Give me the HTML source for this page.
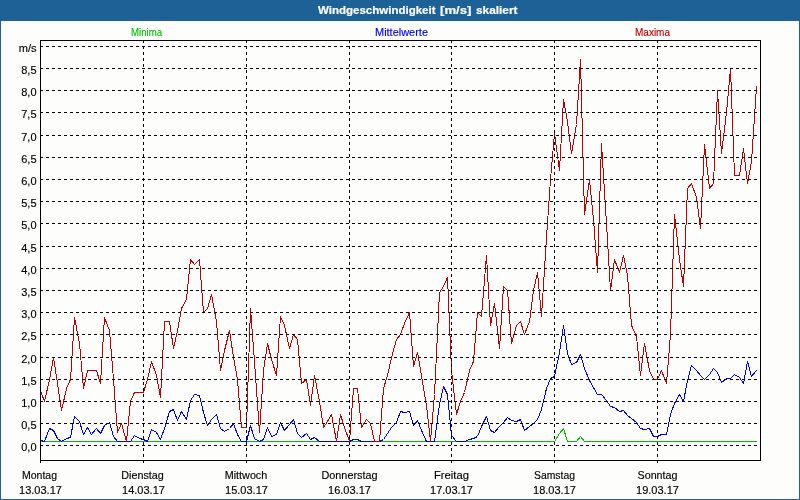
<!DOCTYPE html>
<html><head><meta charset="utf-8"><title>Windgeschwindigkeit [m/s] skaliert</title>
<style>
html,body{margin:0;padding:0;background:#fdfefc;overflow:hidden}
svg{display:block;will-change:transform}
text{font-family:"Liberation Sans",sans-serif;font-size:11px;stroke:#000;stroke-width:0.15px}
.t{font-weight:bold;fill:#fff;font-size:11px;stroke:#fff;stroke-width:0.2px}
.lg{fill:#00c000;stroke:#00c000}.lb{fill:#0000f0;stroke:#0000f0}.lr{fill:#c00000;stroke:#c00000}
.g{stroke:#000;stroke-width:1;stroke-dasharray:3 3;fill:none}
</style></head><body>
<svg width="800" height="500" viewBox="0 0 800 500" shape-rendering="crispEdges">
<rect x="0" y="0" width="800" height="500" fill="#fdfefc"/>
<rect x="0" y="0" width="800" height="21" fill="#1d6197"/>
<rect x="0" y="0" width="1" height="500" fill="#1d6197"/>
<rect x="799" y="0" width="1" height="500" fill="#1d6197"/>
<rect x="0" y="499" width="800" height="1" fill="#1d6197"/>
<text class="t" y="14"><tspan x="318" textLength="117.5" lengthAdjust="spacingAndGlyphs">Windgeschwindigkeit</tspan> <tspan x="440" textLength="31.5" lengthAdjust="spacingAndGlyphs">[m/s]</tspan> <tspan x="476" textLength="41.5" lengthAdjust="spacingAndGlyphs">skaliert</tspan></text>
<text x="146.5" y="36" text-anchor="middle" class="lg" textLength="31" lengthAdjust="spacingAndGlyphs">Minima</text>
<text x="401.5" y="36" text-anchor="middle" class="lb" textLength="53" lengthAdjust="spacingAndGlyphs">Mittelwerte</text>
<text x="652.5" y="36" text-anchor="middle" class="lr" textLength="35" lengthAdjust="spacingAndGlyphs">Maxima</text>

<polyline fill="none" stroke-linejoin="round" stroke="#00c000" stroke-width="1" points="40.5,441.5 44.5,441.5 49.5,441.5 53.5,441.5 57.5,441.5 61.5,441.5 66.5,441.5 70.5,441.5 74.5,441.5 79.5,441.5 83.5,441.5 87.5,441.5 91.5,441.5 96.5,441.5 100.5,441.5 104.5,441.5 109.5,441.5 113.5,441.5 117.5,441.5 121.5,441.5 126.5,441.5 130.5,441.5 134.5,441.5 139.5,441.5 143.5,441.5 147.5,441.5 151.5,441.5 156.5,441.5 160.5,441.5 164.5,441.5 169.5,441.5 173.5,441.5 177.5,441.5 181.5,441.5 186.5,441.5 190.5,441.5 194.5,441.5 199.5,441.5 203.5,441.5 207.5,441.5 211.5,441.5 216.5,441.5 220.5,441.5 224.5,441.5 229.5,441.5 233.5,441.5 237.5,441.5 241.5,441.5 246.5,441.5 250.5,441.5 254.5,441.5 259.5,441.5 263.5,441.5 267.5,441.5 271.5,441.5 276.5,441.5 280.5,441.5 284.5,441.5 289.5,441.5 293.5,441.5 297.5,441.5 301.5,441.5 306.5,441.5 310.5,441.5 314.5,441.5 319.5,441.5 323.5,441.5 327.5,441.5 331.5,441.5 336.5,441.5 340.5,441.5 344.5,441.5 349.5,441.5 353.5,441.5 357.5,441.5 361.5,441.5 366.5,441.5 370.5,441.5 374.5,441.5 379.5,441.5 383.5,441.5 387.5,441.5 391.5,441.5 396.5,441.5 400.5,441.5 404.5,441.5 409.5,441.5 413.5,441.5 417.5,441.5 421.5,441.5 426.5,441.5 430.5,441.5 434.5,441.5 439.5,441.5 443.5,441.5 447.5,441.5 451.5,441.5 456.5,441.5 460.5,441.5 464.5,441.5 469.5,441.5 473.5,441.5 477.5,441.5 481.5,441.5 486.5,441.5 490.5,441.5 494.5,441.5 499.5,441.5 503.5,441.5 507.5,441.5 511.5,441.5 516.5,441.5 520.5,441.5 524.5,441.5 529.5,441.5 533.5,441.5 537.5,441.5 541.5,441.5 546.5,441.5 550.5,441.5 554.5,441.5 559.5,433.5 563.5,428.5 567.5,441.5 571.5,441.5 576.5,441.5 580.5,436.5 584.5,441.5 589.5,441.5 593.5,441.5 597.5,441.5 601.5,441.5 606.5,441.5 610.5,441.5 614.5,441.5 619.5,441.5 623.5,441.5 627.5,441.5 631.5,441.5 636.5,441.5 640.5,441.5 644.5,441.5 649.5,441.5 653.5,441.5 657.5,441.5 661.5,441.5 666.5,441.5 670.5,441.5 674.5,441.5 679.5,441.5 683.5,441.5 687.5,441.5 691.5,441.5 696.5,441.5 700.5,441.5 704.5,441.5 709.5,441.5 713.5,441.5 717.5,441.5 721.5,441.5 726.5,441.5 730.5,441.5 734.5,441.5 739.5,441.5 743.5,441.5 747.5,441.5 751.5,441.5 756.5,441.5"/>
<polyline fill="none" stroke-linejoin="round" stroke="#0000f0" stroke-width="1" points="40.5,440.5 44.5,441.5 49.5,428.5 53.5,430.5 57.5,438.5 61.5,441.5 66.5,438.5 70.5,437.5 74.5,416.5 79.5,421.5 83.5,434.5 87.5,427.5 91.5,434.5 96.5,428.5 100.5,433.5 104.5,425.5 109.5,422.5 113.5,436.5 117.5,441.5 121.5,441.5 126.5,441.5 130.5,441.5 134.5,435.5 139.5,438.5 143.5,439.5 147.5,441.5 151.5,429.5 156.5,432.5 160.5,439.5 164.5,428.5 169.5,411.5 173.5,409.5 177.5,420.5 181.5,411.5 186.5,419.5 190.5,400.5 194.5,394.5 199.5,395.5 203.5,412.5 207.5,425.5 211.5,419.5 216.5,414.5 220.5,428.5 224.5,431.5 229.5,428.5 233.5,423.5 237.5,434.5 241.5,441.5 246.5,441.5 250.5,425.5 254.5,438.5 259.5,441.5 263.5,439.5 267.5,427.5 271.5,436.5 276.5,434.5 280.5,422.5 284.5,430.5 289.5,424.5 293.5,419.5 297.5,433.5 301.5,437.5 306.5,433.5 310.5,439.5 314.5,437.5 319.5,441.5 323.5,441.5 327.5,441.5 331.5,441.5 336.5,441.5 340.5,441.5 344.5,441.5 349.5,441.5 353.5,439.5 357.5,439.5 361.5,441.5 366.5,441.5 370.5,441.5 374.5,441.5 379.5,441.5 383.5,439.5 387.5,433.5 391.5,427.5 396.5,422.5 400.5,411.5 404.5,412.5 409.5,411.5 413.5,425.5 417.5,420.5 421.5,430.5 426.5,441.5 430.5,441.5 434.5,441.5 439.5,404.5 443.5,386.5 447.5,394.5 451.5,435.5 456.5,441.5 460.5,441.5 464.5,441.5 469.5,439.5 473.5,438.5 477.5,436.5 481.5,426.5 486.5,416.5 490.5,430.5 494.5,432.5 499.5,426.5 503.5,422.5 507.5,417.5 511.5,420.5 516.5,421.5 520.5,419.5 524.5,430.5 529.5,426.5 533.5,423.5 537.5,419.5 541.5,409.5 546.5,388.5 550.5,378.5 554.5,376.5 559.5,352.5 563.5,325.5 567.5,353.5 571.5,364.5 576.5,362.5 580.5,354.5 584.5,368.5 589.5,380.5 593.5,387.5 597.5,394.5 601.5,394.5 606.5,400.5 610.5,406.5 614.5,407.5 619.5,411.5 623.5,410.5 627.5,415.5 631.5,418.5 636.5,422.5 640.5,428.5 644.5,429.5 649.5,428.5 653.5,436.5 657.5,436.5 661.5,434.5 666.5,434.5 670.5,414.5 674.5,403.5 679.5,394.5 683.5,401.5 687.5,380.5 691.5,365.5 696.5,370.5 700.5,375.5 704.5,379.5 709.5,374.5 713.5,368.5 717.5,372.5 721.5,382.5 726.5,378.5 730.5,378.5 734.5,374.5 739.5,377.5 743.5,383.5 747.5,361.5 751.5,376.5 756.5,370.5"/>
<polyline fill="none" stroke-linejoin="round" stroke="#c00000" stroke-width="1" points="40.5,390.5 44.5,401.5 49.5,379.5 53.5,357.5 57.5,383.5 61.5,410.5 66.5,388.5 70.5,379.5 74.5,317.5 79.5,343.5 83.5,388.5 87.5,370.5 91.5,370.5 96.5,370.5 100.5,383.5 104.5,317.5 109.5,330.5 113.5,379.5 117.5,432.5 121.5,423.5 126.5,441.5 130.5,401.5 134.5,392.5 139.5,392.5 143.5,392.5 147.5,379.5 151.5,361.5 156.5,375.5 160.5,397.5 164.5,321.5 169.5,321.5 173.5,348.5 177.5,330.5 181.5,308.5 186.5,299.5 190.5,259.5 194.5,264.5 199.5,259.5 203.5,312.5 207.5,308.5 211.5,294.5 216.5,321.5 220.5,370.5 224.5,350.5 229.5,330.5 233.5,357.5 237.5,379.5 241.5,427.5 246.5,427.5 250.5,308.5 254.5,361.5 259.5,432.5 263.5,370.5 267.5,343.5 271.5,359.5 276.5,375.5 280.5,316.5 284.5,325.5 289.5,348.5 293.5,334.5 297.5,339.5 301.5,383.5 306.5,379.5 310.5,405.5 314.5,375.5 319.5,401.5 323.5,427.5 327.5,421.5 331.5,414.5 336.5,441.5 340.5,414.5 344.5,427.5 349.5,441.5 353.5,388.5 357.5,388.5 361.5,427.5 366.5,419.5 370.5,423.5 374.5,441.5 379.5,441.5 383.5,388.5 387.5,375.5 391.5,357.5 396.5,339.5 400.5,334.5 404.5,323.5 409.5,312.5 413.5,366.5 417.5,352.5 421.5,375.5 426.5,405.5 430.5,441.5 434.5,394.5 439.5,292.5 443.5,286.5 447.5,277.5 451.5,370.5 456.5,414.5 460.5,401.5 464.5,392.5 469.5,370.5 473.5,361.5 477.5,312.5 481.5,316.5 486.5,255.5 490.5,325.5 494.5,303.5 499.5,348.5 503.5,286.5 507.5,290.5 511.5,343.5 516.5,325.5 520.5,321.5 524.5,334.5 529.5,321.5 533.5,290.5 537.5,272.5 541.5,316.5 546.5,237.5 550.5,179.5 554.5,133.5 559.5,170.5 563.5,99.5 567.5,121.5 571.5,153.5 576.5,124.5 580.5,59.5 584.5,214.5 589.5,179.5 593.5,219.5 597.5,272.5 601.5,143.5 606.5,223.5 610.5,290.5 614.5,259.5 619.5,272.5 623.5,255.5 627.5,275.5 631.5,325.5 636.5,336.5 640.5,375.5 644.5,343.5 649.5,370.5 653.5,379.5 657.5,379.5 661.5,370.5 666.5,383.5 670.5,334.5 674.5,214.5 679.5,259.5 683.5,286.5 687.5,188.5 691.5,183.5 696.5,197.5 700.5,228.5 704.5,144.5 709.5,188.5 713.5,183.5 717.5,90.5 721.5,153.5 726.5,112.5 730.5,68.5 734.5,175.5 739.5,175.5 743.5,148.5 747.5,183.5 751.5,161.5 756.5,86.5"/>
<line class="g" x1="40" y1="46.5" x2="760" y2="46.5"/>
<text x="36.5" y="52" text-anchor="end">m/s</text>
<line class="g" x1="40" y1="68.5" x2="760" y2="68.5"/>
<text x="36.5" y="74" text-anchor="end">8,5</text>
<line class="g" x1="40" y1="90.5" x2="760" y2="90.5"/>
<text x="36.5" y="96" text-anchor="end">8,0</text>
<line class="g" x1="40" y1="112.5" x2="760" y2="112.5"/>
<text x="36.5" y="118" text-anchor="end">7,5</text>
<line class="g" x1="40" y1="135.5" x2="760" y2="135.5"/>
<text x="36.5" y="141" text-anchor="end">7,0</text>
<line class="g" x1="40" y1="157.5" x2="760" y2="157.5"/>
<text x="36.5" y="163" text-anchor="end">6,5</text>
<line class="g" x1="40" y1="179.5" x2="760" y2="179.5"/>
<text x="36.5" y="185" text-anchor="end">6,0</text>
<line class="g" x1="40" y1="201.5" x2="760" y2="201.5"/>
<text x="36.5" y="207" text-anchor="end">5,5</text>
<line class="g" x1="40" y1="223.5" x2="760" y2="223.5"/>
<text x="36.5" y="229" text-anchor="end">5,0</text>
<line class="g" x1="40" y1="246.5" x2="760" y2="246.5"/>
<text x="36.5" y="252" text-anchor="end">4,5</text>
<line class="g" x1="40" y1="268.5" x2="760" y2="268.5"/>
<text x="36.5" y="274" text-anchor="end">4,0</text>
<line class="g" x1="40" y1="290.5" x2="760" y2="290.5"/>
<text x="36.5" y="296" text-anchor="end">3,5</text>
<line class="g" x1="40" y1="312.5" x2="760" y2="312.5"/>
<text x="36.5" y="318" text-anchor="end">3,0</text>
<line class="g" x1="40" y1="334.5" x2="760" y2="334.5"/>
<text x="36.5" y="340" text-anchor="end">2,5</text>
<line class="g" x1="40" y1="357.5" x2="760" y2="357.5"/>
<text x="36.5" y="363" text-anchor="end">2,0</text>
<line class="g" x1="40" y1="379.5" x2="760" y2="379.5"/>
<text x="36.5" y="385" text-anchor="end">1,5</text>
<line class="g" x1="40" y1="401.5" x2="760" y2="401.5"/>
<text x="36.5" y="407" text-anchor="end">1,0</text>
<line class="g" x1="40" y1="423.5" x2="760" y2="423.5"/>
<text x="36.5" y="429" text-anchor="end">0,5</text>
<line class="g" x1="40" y1="445.5" x2="760" y2="445.5"/>
<text x="36.5" y="451" text-anchor="end">0,0</text>
<line x1="40.5" y1="460" x2="40.5" y2="463" stroke="#000"/>
<text x="39.5" y="479" text-anchor="middle" textLength="35" lengthAdjust="spacingAndGlyphs">Montag</text>
<text x="40.5" y="494" text-anchor="middle">13.03.17</text>
<line class="g" x1="143.5" y1="40" x2="143.5" y2="460"/>
<line x1="143.5" y1="460" x2="143.5" y2="463" stroke="#000"/>
<text x="142.5" y="479" text-anchor="middle" textLength="42.5" lengthAdjust="spacingAndGlyphs">Dienstag</text>
<text x="143.5" y="494" text-anchor="middle">14.03.17</text>
<line class="g" x1="246.5" y1="40" x2="246.5" y2="460"/>
<line x1="246.5" y1="460" x2="246.5" y2="463" stroke="#000"/>
<text x="246.0" y="479" text-anchor="middle" textLength="42.5" lengthAdjust="spacingAndGlyphs">Mittwoch</text>
<text x="246.5" y="494" text-anchor="middle">15.03.17</text>
<line class="g" x1="349.5" y1="40" x2="349.5" y2="460"/>
<line x1="349.5" y1="460" x2="349.5" y2="463" stroke="#000"/>
<text x="349.5" y="479" text-anchor="middle" textLength="56" lengthAdjust="spacingAndGlyphs">Donnerstag</text>
<text x="349.5" y="494" text-anchor="middle">16.03.17</text>
<line class="g" x1="451.5" y1="40" x2="451.5" y2="460"/>
<line x1="451.5" y1="460" x2="451.5" y2="463" stroke="#000"/>
<text x="451.5" y="479" text-anchor="middle" textLength="35" lengthAdjust="spacingAndGlyphs">Freitag</text>
<text x="451.5" y="494" text-anchor="middle">17.03.17</text>
<line class="g" x1="554.5" y1="40" x2="554.5" y2="460"/>
<line x1="554.5" y1="460" x2="554.5" y2="463" stroke="#000"/>
<text x="554.5" y="479" text-anchor="middle" textLength="41" lengthAdjust="spacingAndGlyphs">Samstag</text>
<text x="554.5" y="494" text-anchor="middle">18.03.17</text>
<line class="g" x1="657.5" y1="40" x2="657.5" y2="460"/>
<line x1="657.5" y1="460" x2="657.5" y2="463" stroke="#000"/>
<text x="657.5" y="479" text-anchor="middle" textLength="40" lengthAdjust="spacingAndGlyphs">Sonntag</text>
<text x="657.5" y="494" text-anchor="middle">19.03.17</text>
<rect x="40.5" y="40.5" width="720" height="420" fill="none" stroke="#000" stroke-width="1"/>
</svg></body></html>
